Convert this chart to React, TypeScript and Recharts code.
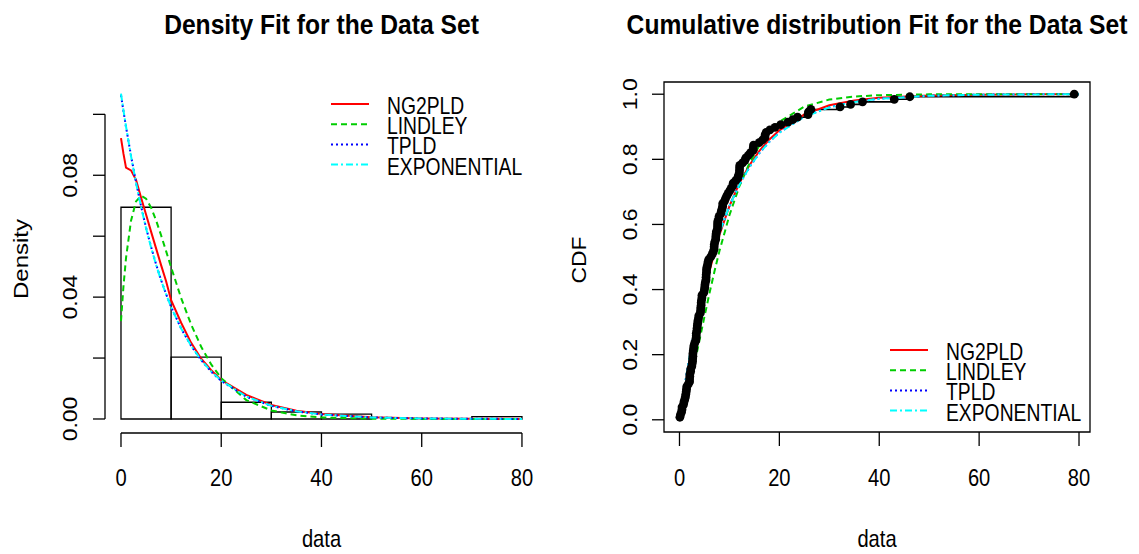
import React from 'react';
import { ComposedChart, Line, XAxis, YAxis, ReferenceArea, ReferenceLine } from 'recharts';

// ---------- data ----------
const binStarts = [0, 10, 20, 30, 40, 50, 60, 70];
const binWidth = 10;
const binDensity = [0.0695, 0.0203, 0.0055, 0.0023, 0.0016, 0, 0, 0.0008];

const densityX = [0, 0.5, 1, 2, 3, 4, 5, 6, 7, 8, 9, 10, 12, 14, 16, 18, 20, 25, 30, 35, 40, 50, 60, 70, 80];
const ng2pldDensity = [0.0922, 0.087, 0.0825, 0.0816, 0.0785, 0.0727, 0.0671, 0.0615, 0.056, 0.0505, 0.0452, 0.039, 0.0316, 0.025, 0.0198, 0.016, 0.0128, 0.0079, 0.0046, 0.0027, 0.0016, 0.0006, 0.0002, 0.00007, 0.00003];
const lindleyDensity = [0.0321, 0.0437, 0.0528, 0.0651, 0.0714, 0.0733, 0.0723, 0.0694, 0.0652, 0.0603, 0.0551, 0.0498, 0.0397, 0.031, 0.0237, 0.0179, 0.0134, 0.0062, 0.0028, 0.0012, 0.0005, 0.0001, 0.00002, 0, 0];
const tpldDensity = [0.1063, 0.101, 0.0959, 0.0864, 0.0777, 0.0699, 0.0628, 0.0565, 0.0508, 0.0456, 0.041, 0.0368, 0.0297, 0.024, 0.0193, 0.0155, 0.0125, 0.0073, 0.0043, 0.0025, 0.00146, 0.0005, 0.00017, 0.00006, 0.00002];
const expDensity = [0.1068, 0.1012, 0.096, 0.0863, 0.0775, 0.0697, 0.0626, 0.0563, 0.0506, 0.0455, 0.0409, 0.0367, 0.0297, 0.024, 0.0193, 0.0156, 0.0126, 0.0074, 0.00434, 0.00254, 0.00149, 0.00051, 0.00018, 0.00006, 0.00002];

const cdfX = [0, 1, 2, 3, 4, 5, 6, 7, 8, 10, 12, 14, 16, 18, 20, 25, 30, 35, 40, 50, 60, 70, 80];
const ng2pldCdf = [0, 0.087, 0.17, 0.249, 0.323, 0.392, 0.456, 0.514, 0.568, 0.656, 0.727, 0.782, 0.826, 0.861, 0.889, 0.938, 0.966, 0.981, 0.989, 0.996, 0.9986, 0.9995, 0.9999];
const lindleyCdf = [0, 0.0432, 0.1027, 0.1714, 0.2439, 0.317, 0.3882, 0.4555, 0.5182, 0.6282, 0.7175, 0.7881, 0.8426, 0.884, 0.9151, 0.962, 0.9835, 0.9929, 0.997, 0.9995, 0.9999, 1, 1];
const tpldCdf = [0, 0.101, 0.192, 0.274, 0.3475, 0.4135, 0.4728, 0.5262, 0.5742, 0.6562, 0.7225, 0.776, 0.8193, 0.8543, 0.8825, 0.9315, 0.96, 0.9767, 0.9864, 0.9954, 0.9985, 0.9995, 0.9998];
const expCdf = [0, 0.1013, 0.1923, 0.2741, 0.3476, 0.4137, 0.4731, 0.5264, 0.5744, 0.6563, 0.7223, 0.7757, 0.8189, 0.8537, 0.8818, 0.9308, 0.9594, 0.9762, 0.986, 0.9952, 0.9984, 0.9994, 0.9998];

const remissionTimes = [
  0.08, 2.09, 3.48, 4.87, 6.94, 8.66, 13.11, 23.63, 0.2, 2.23, 3.52, 4.98, 6.97, 9.02, 13.29,
  0.4, 2.26, 3.57, 5.06, 7.09, 9.22, 13.8, 25.74, 0.5, 2.46, 3.64, 5.09, 7.26, 9.47, 14.24, 25.82,
  0.51, 2.54, 3.7, 5.17, 7.28, 9.74, 14.76, 26.31, 0.81, 2.62, 3.82, 5.32, 7.32, 10.06, 14.77, 32.15,
  2.64, 3.88, 5.32, 7.39, 10.34, 14.83, 34.26, 0.9, 2.69, 4.18, 5.34, 7.59, 10.66, 15.96, 36.66,
  1.05, 2.69, 4.23, 5.41, 7.62, 10.75, 16.62, 43.01, 1.19, 2.75, 4.26, 5.41, 7.63, 17.12, 46.12,
  1.26, 2.83, 4.33, 5.49, 7.66, 11.25, 17.14, 79.05, 1.35, 2.87, 5.62, 7.87, 11.64, 17.36,
  1.4, 3.02, 4.34, 5.71, 7.93, 11.79, 18.1, 1.46, 4.4, 5.85, 8.26, 11.98, 19.13,
  1.76, 3.25, 4.5, 6.25, 8.37, 12.02, 2.02, 3.31, 4.51, 6.54, 8.53, 12.03, 20.28,
  2.02, 3.36, 6.76, 12.07, 21.73, 2.07, 3.36, 6.93, 8.65, 12.63, 22.69,
];

const xTicks = [0, 20, 40, 60, 80];
const densityTicks = [0, 0.02, 0.04, 0.06, 0.08, 0.1];
const densityLabelled = [0, 0.04, 0.08];
const cdfTicks = [0, 0.2, 0.4, 0.6, 0.8, 1];
const seriesNames = ['NG2PLD', 'LINDLEY', 'TPLD', 'EXPONENTIAL'];

// ---------- styles ----------
const FONT = '"Liberation Sans", Arial, Helvetica, sans-serif';
const SX = 0.88;
const STYLES = [
  { color: '#FF0000', dash: undefined as string | undefined },
  { color: '#00CD00', dash: '6 4' },
  { color: '#0000FF', dash: '2 3' },
  { color: '#00FFFF', dash: '7 3 2 3' },
];

const toPts = (xs: number[], ys: number[]) => xs.map((x, i) => ({ x, y: ys[i] }));
const densSeries = [ng2pldDensity, lindleyDensity, tpldDensity, expDensity].map((s) => toPts(densityX, s));
const cdfSeries = [ng2pldCdf, lindleyCdf, tpldCdf, expCdf].map((s) => toPts(cdfX, s));
const sorted = [...remissionTimes].sort((a, b) => a - b);
const ecdf = sorted.map((x, i) => ({ x, y: (i + 1) / sorted.length }));

const LD = { x: [-3.19, 83.2] as [number, number], y: [-0.0046, 0.1244] as [number, number] };
const RD = { x: [-3.1, 82.2] as [number, number], y: [-0.0375, 1.0375] as [number, number] };

const XTick = (props: any) => {
  const { x, payload } = props;
  return (
    <text transform={`translate(${x},486) scale(0.84,1)`} textAnchor="middle" fontSize={24} fontFamily={FONT} fill="#000">
      {payload.value}
    </text>
  );
};

const makeYTick = (baseX: number, fmt: (v: number) => string) => (props: any) => {
  const { y, payload } = props;
  return (
    <text transform={`translate(${baseX},${y}) scale(${SX},1) rotate(-90)`} textAnchor="middle" fontSize={23} fontFamily={FONT} fill="#000">
      {fmt(payload.value)}
    </text>
  );
};

const leftYFmt = (v: number) => (densityLabelled.some((d) => Math.abs(d - v) < 1e-9) ? v.toFixed(2) : '');
const rightYFmt = (v: number) => v.toFixed(1);
const LeftYTick = makeYTick(76.5, leftYFmt);
const RightYTick = makeYTick(636.5 - 560, rightYFmt);

const Legend = ({ x0, y0 }: { x0: number; y0: number }) => (
  <g>
    {seriesNames.map((n, i) => {
      const y = y0 + i * 20.2;
      return (
        <g key={n}>
          <line x1={x0} x2={x0 + 38} y1={y} y2={y} stroke={STYLES[i].color} strokeWidth={2} strokeDasharray={STYLES[i].dash} />
          <text transform={`translate(${x0 + 56},${y + 10}) scale(0.84,1)`} fontSize={23} fontFamily={FONT} fill="#000">
            {n}
          </text>
        </g>
      );
    })}
  </g>
);

export default function App() {
  return (
    <div style={{ position: 'absolute', left: 0, top: 0, width: 1139, height: 554, background: '#fff' }}>
      <div style={{ position: 'absolute', left: 0, top: 0 }}>
        <ComposedChart width={560} height={554} margin={{ top: 40, right: 22, bottom: 61, left: 45 }}>
          <XAxis
            dataKey="x"
            type="number"
            domain={LD.x}
            allowDataOverflow
            ticks={xTicks}
            interval={0}
            axisLine={false}
            tickSize={14}
            tickLine={{ stroke: '#000', strokeWidth: 1.3 }}
            tick={(p: any) => <XTick {...p} />}
            height={60}
          />
          <YAxis
            type="number"
            domain={LD.y}
            allowDataOverflow
            ticks={densityTicks}
            interval={0}
            axisLine={false}
            tickSize={12}
            tickLine={{ stroke: '#000', strokeWidth: 1.3 }}
            tick={(p: any) => <LeftYTick {...p} />}
            width={60}
          />
          {binStarts.map((b, i) => (
            <ReferenceArea
              key={b}
              x1={b}
              x2={b + binWidth}
              y1={0}
              y2={binDensity[i]}
              fill="none"
              fillOpacity={0}
              stroke="#000"
              strokeWidth={1.3}
              strokeOpacity={1}
              ifOverflow="visible"
            />
          ))}
          <ReferenceLine segment={[{ x: 0, y: LD.y[0] }, { x: 80, y: LD.y[0] }]} stroke="#000" strokeWidth={1.3} ifOverflow="visible" />
          <ReferenceLine segment={[{ x: LD.x[0], y: 0 }, { x: LD.x[0], y: 0.1 }]} stroke="#000" strokeWidth={1.3} ifOverflow="visible" />
          {densSeries.map((d, i) => (
            <Line
              key={seriesNames[i]}
              data={d}
              dataKey="y"
              type="linear"
              stroke={STYLES[i].color}
              strokeWidth={2}
              strokeDasharray={STYLES[i].dash}
              dot={false}
              activeDot={false}
              isAnimationActive={false}
            />
          ))}
        </ComposedChart>
      </div>
      <div style={{ position: 'absolute', left: 560, top: 0 }}>
        <ComposedChart width={579} height={554} margin={{ top: 82, right: 49, bottom: 62, left: 44 }}>
          <XAxis
            dataKey="x"
            type="number"
            domain={RD.x}
            allowDataOverflow
            ticks={xTicks}
            interval={0}
            axisLine={false}
            tickSize={14}
            tickLine={{ stroke: '#000', strokeWidth: 1.3 }}
            tick={(p: any) => <XTick {...p} />}
            height={60}
          />
          <YAxis
            type="number"
            domain={RD.y}
            allowDataOverflow
            ticks={cdfTicks}
            interval={0}
            axisLine={false}
            tickSize={12}
            tickLine={{ stroke: '#000', strokeWidth: 1.3 }}
            tick={(p: any) => <RightYTick {...p} />}
            width={60}
          />
          <ReferenceArea
            x1={RD.x[0]}
            x2={RD.x[1]}
            y1={RD.y[0]}
            y2={RD.y[1]}
            fill="none"
            fillOpacity={0}
            stroke="#000"
            strokeWidth={1.3}
            strokeOpacity={1}
            ifOverflow="visible"
          />
          <Line
            data={ecdf}
            dataKey="y"
            type="stepAfter"
            stroke="#000"
            strokeWidth={1.6}
            dot={{ r: 4.4, fill: '#000', stroke: '#000', strokeWidth: 0 }}
            activeDot={false}
            isAnimationActive={false}
          />
          {cdfSeries.map((d, i) => (
            <Line
              key={seriesNames[i]}
              data={d}
              dataKey="y"
              type="linear"
              stroke={STYLES[i].color}
              strokeWidth={2}
              strokeDasharray={STYLES[i].dash}
              dot={false}
              activeDot={false}
              isAnimationActive={false}
            />
          ))}
        </ComposedChart>
      </div>
      <svg width={1139} height={554} style={{ position: 'absolute', left: 0, top: 0, pointerEvents: 'none' }}>
        <text transform={`translate(321.5,33.5) scale(${SX},1)`} textAnchor="middle" fontSize={28} fontWeight="bold" fontFamily={FONT} fill="#000">
          Density Fit for the Data Set
        </text>
        <text transform={`translate(877,33.5) scale(${SX},1)`} textAnchor="middle" fontSize={28} fontWeight="bold" fontFamily={FONT} fill="#000">
          Cumulative distribution Fit for the Data Set
        </text>
        <text transform={`translate(321.5,547) scale(0.84,1)`} textAnchor="middle" fontSize={24} fontFamily={FONT} fill="#000">
          data
        </text>
        <text transform={`translate(877,547) scale(0.84,1)`} textAnchor="middle" fontSize={24} fontFamily={FONT} fill="#000">
          data
        </text>
        <text transform={`translate(27.5,259) scale(${SX},1) rotate(-90)`} textAnchor="middle" fontSize={24} fontFamily={FONT} fill="#000">
          Density
        </text>
        <text transform={`translate(585.5,260) scale(${SX},1) rotate(-90)`} textAnchor="middle" fontSize={23} fontFamily={FONT} fill="#000">
          CDF
        </text>
        <Legend x0={331} y0={104} />
        <Legend x0={890} y0={350} />
      </svg>
    </div>
  );
}
